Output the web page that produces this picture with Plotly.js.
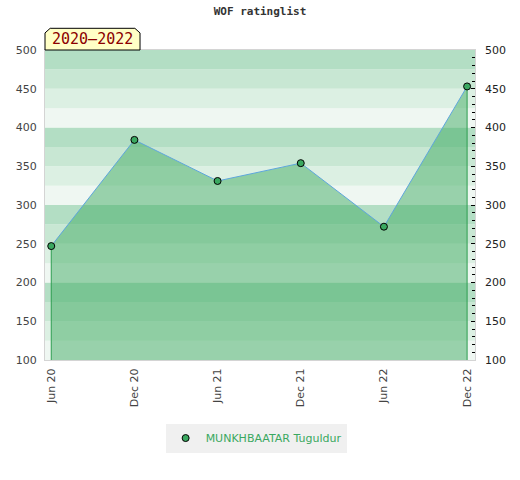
<!DOCTYPE html>
<html>
<head>
<meta charset="utf-8">
<script src="https://cdn.plot.ly/plotly-3.0.1.min.js"></script>
<style>html,body{margin:0;padding:0;background:#fff;}#chart{width:520px;height:480px;}</style>
</head>
<body>
<div id="chart"></div>
<script>
var periods = ['Jun 20', 'Dec 20', 'Jun 21', 'Dec 21', 'Jun 22', 'Dec 22'];
var ratings = [247, 384, 331, 354, 272, 453];
var playerName = 'MUNKHBAATAR Tuguldur';
var chartTitle = 'WOF ratinglist';
var periodLabel = '2020\u20132022';
var yMin = 100, yMax = 500;

var bandColors = ['#eff7f2', '#dcf0e3', '#c8e7d3', '#b3dec4'];
var shapes = [];
for (var v = yMin; v < yMax; v += 25) {
  var q = ((v - yMin) % 100) / 25;
  shapes.push({type: 'rect', xref: 'paper', yref: 'y', x0: 0, x1: 1, y0: v, y1: v + 25,
    fillcolor: bandColors[q], line: {width: 0}, layer: 'below'});
}
// label box with cut corners (paper coords)
shapes.push({type: 'path', xref: 'paper', yref: 'paper',
  path: 'M 0,1 L 0,1.055 L 0.012,1.07 L 0.209,1.07 L 0.221,1.055 L 0.221,1 Z',
  fillcolor: '#ffffc6', line: {color: '#000', width: 1}});

var last = ratings.length - 1;
var traces = [
  {x: periods, y: ratings, type: 'scatter', mode: 'lines', fill: 'tozeroy',
   fillcolor: 'rgba(65,172,100,0.5)', line: {color: '#5ea6dc', width: 1},
   hoverinfo: 'skip', showlegend: false},
  {x: [periods[0], periods[0], null, periods[last], periods[last]],
   y: [ratings[0], yMin, null, ratings[last], yMin], type: 'scatter', mode: 'lines',
   line: {color: '#2e9e50', width: 1}, hoverinfo: 'skip', showlegend: false},
  {x: periods, y: ratings, type: 'scatter', mode: 'markers', name: playerName,
   marker: {color: '#3aa860', size: 7, line: {color: '#000', width: 1}}, showlegend: true},
  {x: periods, y: ratings, yaxis: 'y2', type: 'scatter', mode: 'markers',
   marker: {opacity: 0}, hoverinfo: 'skip', showlegend: false}
];

var layout = {
  width: 520, height: 480,
  margin: {l: 45, r: 45, t: 50, b: 120},
  paper_bgcolor: '#fff', plot_bgcolor: '#fff',
  title: {text: chartTitle, x: 0.5, xanchor: 'center', y: 0.985, yanchor: 'top',
    font: {family: 'DejaVu Sans Mono', size: 11, color: '#333', weight: 'bold'}},
  xaxis: {type: 'category', range: [-0.075, 5.095], showgrid: false, zeroline: false,
    tickangle: -90, ticks: '', ticklabelstandoff: 3,
    tickfont: {family: 'DejaVu Sans', size: 11, color: '#444'},
    showline: true, linecolor: '#d4d4d4', linewidth: 1, mirror: true, fixedrange: true},
  yaxis: {range: [yMin, yMax], dtick: 50, showgrid: false, zeroline: false, ticks: '',
    ticklabelstandoff: 5,
    tickfont: {family: 'DejaVu Sans', size: 11, color: '#444'},
    showline: true, linecolor: '#d4d4d4', linewidth: 1, mirror: true, fixedrange: true},
  yaxis2: {range: [yMin, yMax], dtick: 50, overlaying: 'y', side: 'right', showgrid: false,
    zeroline: false, ticks: 'inside', ticklen: 4, tickcolor: '#000', tickwidth: 1,
    ticklabelstandoff: 9,
    minor: {dtick: 10, ticks: 'inside', ticklen: 3, tickcolor: '#000', tickwidth: 1},
    tickfont: {family: 'DejaVu Sans', size: 11, color: '#222'}, fixedrange: true},
  shapes: shapes,
  annotations: [{text: periodLabel, xref: 'paper', yref: 'paper', x: 0.1105, y: 1.035,
    xanchor: 'center', yanchor: 'middle', showarrow: false,
    font: {family: 'DejaVu Sans Mono', size: 15, color: '#8b0000'}}],
  legend: {orientation: 'h', x: 0.491, xanchor: 'center', y: -0.205, yanchor: 'top',
    bgcolor: '#f0f0f0', font: {family: 'DejaVu Sans', size: 11, color: '#3aa860'}},
  showlegend: true
};

Plotly.newPlot('chart', traces, layout, {displayModeBar: false, staticPlot: true});
</script>
</body>
</html>
